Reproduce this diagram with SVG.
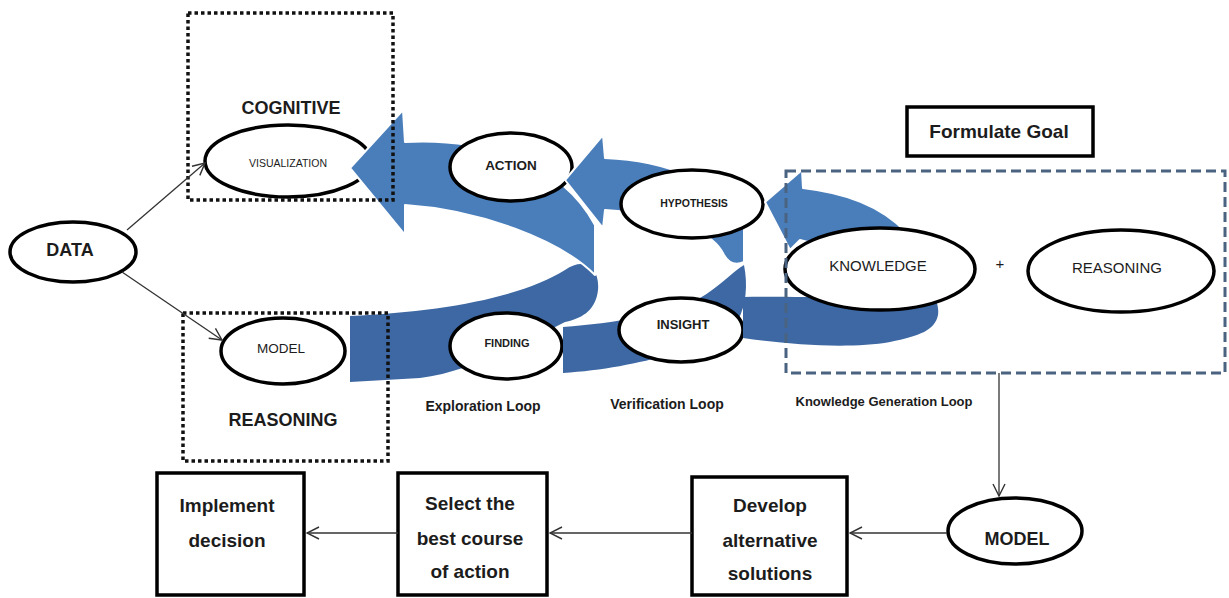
<svg xmlns="http://www.w3.org/2000/svg" width="1229" height="598" viewBox="0 0 1229 598">
<defs>
<style>
text{font-family:"Liberation Sans",Arial,sans-serif;fill:#1c1c1c;text-anchor:middle}
.b{font-weight:bold}
.el{fill:#fff;stroke:#000;stroke-width:3.5}
.box{fill:#fff;stroke:#000;stroke-width:3.5}
.dot{fill:none;stroke:#111;stroke-width:3.5;stroke-dasharray:3.5 3}
.dash{fill:none;stroke:#4a6380;stroke-width:3;stroke-dasharray:10 5}
.lt{fill:#4a7ebb;stroke:#fff;stroke-width:2;stroke-linejoin:round}
.dk{fill:#3d68a3}
.ln{fill:none;stroke:#333;stroke-width:1.3}
</style>
<marker id="ah" viewBox="0 0 14 14" refX="13" refY="7" markerWidth="14" markerHeight="14" markerUnits="userSpaceOnUse" orient="auto">
<path d="M1,1 L13,7 L1,13" fill="none" stroke="#333" stroke-width="1.4"/>
</marker>
</defs>
<rect width="1229" height="598" fill="#fff"/>

<g id="visualization"><ellipse class="el" cx="288" cy="161" rx="83" ry="36"/><text x="288" y="167" font-size="10.5">VISUALIZATION</text></g>

<g id="loop-arrows">
<path id="exploration-dark" class="dk" d="M350,316 C440,312 520,298 565,270 C585,256 600,268 598,290 C596,308 585,318 565,322 C530,340 470,372 420,378 L350,382 Z"/>
<path id="exploration-light" class="lt" d="M350,168 L403,110 L405,142 C480,138 560,160 595,225 L595,275 C560,240 480,210 405,205 L405,235 Z"/>
</g>

<g id="action"><ellipse class="el" cx="511" cy="167" rx="61" ry="34"/><text class="b" x="511" y="170" font-size="13.5">ACTION</text></g>
<g id="finding"><ellipse class="el" cx="506" cy="346" rx="56" ry="33"/><text class="b" x="507" y="347" font-size="11">FINDING</text></g>
<g id="model-small"><ellipse class="el" cx="283" cy="351" rx="62" ry="33"/><text x="281" y="353" font-size="13.5">MODEL</text></g>

<g id="verification-arrow">
<path class="dk" d="M563,327 C615,323 665,315 700,298 C718,288 732,272 744,265 C748,285 746,305 738,320 C715,345 640,368 563,373 Z"/>
<path class="lt" d="M565,180 L603,135 L605,158 C660,160 725,180 744,228 L744,262 C735,266 728,262 724,255 C715,235 680,215 605,210 L603,228 Z"/>
</g>

<g id="hypothesis"><ellipse class="el" cx="692" cy="204" rx="71" ry="34"/><text class="b" x="694" y="207" font-size="10.5">HYPOTHESIS</text></g>
<g id="insight"><ellipse class="el" cx="681" cy="330" rx="62" ry="32"/><text class="b" x="683" y="329" font-size="13">INSIGHT</text></g>

<g id="knowledge-arrow">
<path class="dk" d="M743,297 C790,296 860,300 910,290 C930,285 940,300 938,315 C935,330 920,336 890,342 C850,349 790,345 743,338 Z"/>
<path class="lt" d="M765,202 L802,170 L803,188 C845,193 880,205 906,232 L900,275 C880,262 840,250 800,240 L790,250 Z"/>
</g>

<g id="knowledge"><ellipse class="el" cx="880" cy="269" rx="95" ry="41"/><text x="878" y="271" font-size="15">KNOWLEDGE</text></g>
<g id="plus"><text x="1000" y="269" font-size="15">+</text></g>
<g id="reasoning-ellipse"><ellipse class="el" cx="1121" cy="271" rx="93" ry="41"/><text x="1117" y="273" font-size="15">REASONING</text></g>

<g id="cognitive-box"><rect class="dot" x="188" y="13" width="205" height="187"/><text class="b" x="291" y="114" font-size="18">COGNITIVE</text></g>
<g id="reasoning-box"><rect class="dot" x="183" y="313" width="205" height="148"/><text class="b" x="283" y="426" font-size="18">REASONING</text></g>
<g id="knowledge-box"><rect class="dash" x="786" y="171" width="439" height="202"/></g>

<g id="data"><ellipse class="el" cx="73" cy="252" rx="63" ry="30"/><text class="b" x="70" y="256" font-size="18">DATA</text></g>
<g id="formulate-goal"><rect class="box" x="907" y="107" width="186" height="49"/><text class="b" x="999" y="138" font-size="19">Formulate Goal</text></g>

<g id="loop-labels">
<text class="b" x="483" y="411" font-size="14">Exploration Loop</text>
<text class="b" x="667" y="409" font-size="14">Verification Loop</text>
<text class="b" x="884" y="406" font-size="13">Knowledge Generation Loop</text>
</g>

<g id="model-bottom"><ellipse class="el" cx="1015" cy="531" rx="67" ry="33"/><text class="b" x="1017" y="545" font-size="18">MODEL</text></g>
<g id="develop"><rect class="box" x="692" y="477" width="155" height="118"/>
<text class="b" x="770" y="512" font-size="19">Develop</text><text class="b" x="770" y="547" font-size="19">alternative</text><text class="b" x="770" y="580" font-size="19">solutions</text></g>
<g id="select"><rect class="box" x="398" y="473" width="149" height="122"/>
<text class="b" x="470" y="510" font-size="19">Select the</text><text class="b" x="470" y="545" font-size="19">best course</text><text class="b" x="470" y="578" font-size="19">of action</text></g>
<g id="implement"><rect class="box" x="157" y="473" width="147" height="122"/>
<text class="b" x="227" y="512" font-size="19">Implement</text><text class="b" x="227" y="547" font-size="19">decision</text></g>

<g id="connectors">
<line class="ln" x1="127" y1="230" x2="205" y2="163" marker-end="url(#ah)"/>
<line class="ln" x1="122" y1="272" x2="222" y2="340" marker-end="url(#ah)"/>
<line class="ln" x1="999" y1="373" x2="999" y2="496" marker-end="url(#ah)"/>
<line class="ln" x1="947" y1="533" x2="850" y2="533" marker-end="url(#ah)"/>
<line class="ln" x1="692" y1="533" x2="550" y2="533" marker-end="url(#ah)"/>
<line class="ln" x1="398" y1="533" x2="307" y2="533" marker-end="url(#ah)"/>
</g>
</svg>
